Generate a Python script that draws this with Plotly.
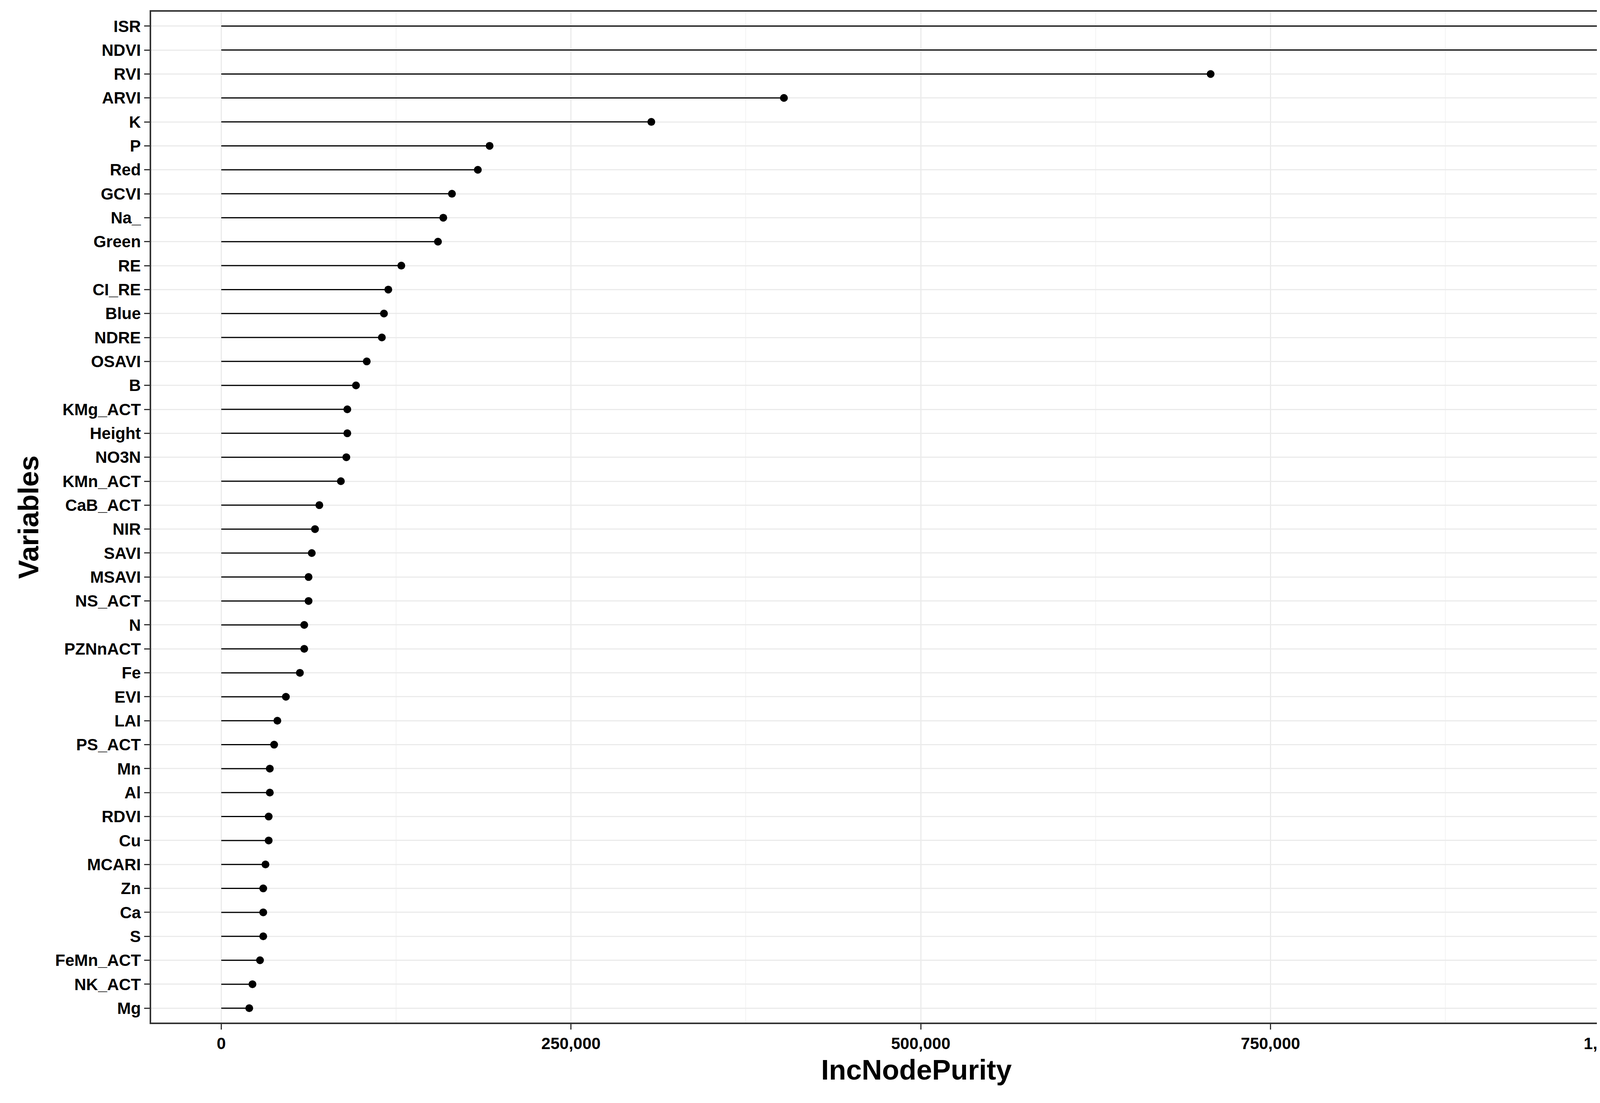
import plotly.graph_objects as go

variables = ['ISR', 'NDVI', 'RVI', 'ARVI', 'K', 'P', 'Red', 'GCVI', 'Na_', 'Green',
             'RE', 'CI_RE', 'Blue', 'NDRE', 'OSAVI', 'B', 'KMg_ACT', 'Height', 'NO3N',
             'KMn_ACT', 'CaB_ACT', 'NIR', 'SAVI', 'MSAVI', 'NS_ACT', 'N', 'PZNnACT',
             'Fe', 'EVI', 'LAI', 'PS_ACT', 'Mn', 'Al', 'RDVI', 'Cu', 'MCARI', 'Zn',
             'Ca', 'S', 'FeMn_ACT', 'NK_ACT', 'Mg']
purity = [994600, 988400, 707200, 402200, 307400, 191800, 183400, 164900, 158700, 154900,
          128700, 119400, 116300, 114800, 104000, 96300, 90100, 90100, 89400,
          85500, 70100, 67000, 64700, 62400, 62400, 59300, 59300,
          56200, 46200, 40100, 37800, 34700, 34700, 33900, 33900, 31600, 30000,
          30000, 30000, 27700, 22300, 20000]
tick_vals = [0, 250000, 500000, 750000, 1000000]
tick_text = ['0', '250,000', '500,000', '750,000', '1,000,000']

# stems: 0 -> value, separated by None
seg_x, seg_y = [], []
for v, p in zip(variables, purity):
    seg_x += [0, p, None]
    seg_y += [v, v, None]

fig = go.Figure()
fig.add_trace(go.Scatter(x=seg_x, y=seg_y, mode='lines',
                         line=dict(color='black', width=3), showlegend=False))
fig.add_trace(go.Scatter(x=purity, y=variables, mode='markers',
                         marker=dict(color='black', size=20), showlegend=False))

font = 'Liberation Sans, Arial, sans-serif'
fig.update_layout(
    width=4310, height=2790,
    paper_bgcolor='white', plot_bgcolor='white',
    margin=dict(l=379, r=9, t=22, b=180),
    font=dict(family=font, color='black'),
    xaxis=dict(
        range=[-50100, 1043900], tickvals=tick_vals, ticktext=tick_text,
        tickfont=dict(size=42, family=font, weight='bold'),
        title=dict(text='<b>IncNodePurity</b>', font=dict(size=72), standoff=20),
        showgrid=True, gridcolor='#ebebeb', gridwidth=3,
        minor=dict(tickvals=[125000, 375000, 625000, 875000], showgrid=True,
                   gridcolor='#f3f3f3', gridwidth=2),
        ticks='outside', ticklen=14, tickwidth=3, tickcolor='#333333',
        showline=True, linecolor='#333333', linewidth=4, mirror=True, zeroline=False,
    ),
    yaxis=dict(
        categoryorder='array', categoryarray=variables[::-1],
        range=[-0.6, len(variables) - 0.4],
        tickfont=dict(size=42, family=font, weight='bold'),
        title=dict(text='<b>Variables</b>', font=dict(size=72), standoff=20),
        showgrid=True, gridcolor='#ebebeb', gridwidth=3,
        ticks='outside', ticklen=14, tickwidth=3, tickcolor='#333333',
        showline=True, linecolor='#333333', linewidth=4, mirror=True,
    ),
)
fig.write_html('out.html')
